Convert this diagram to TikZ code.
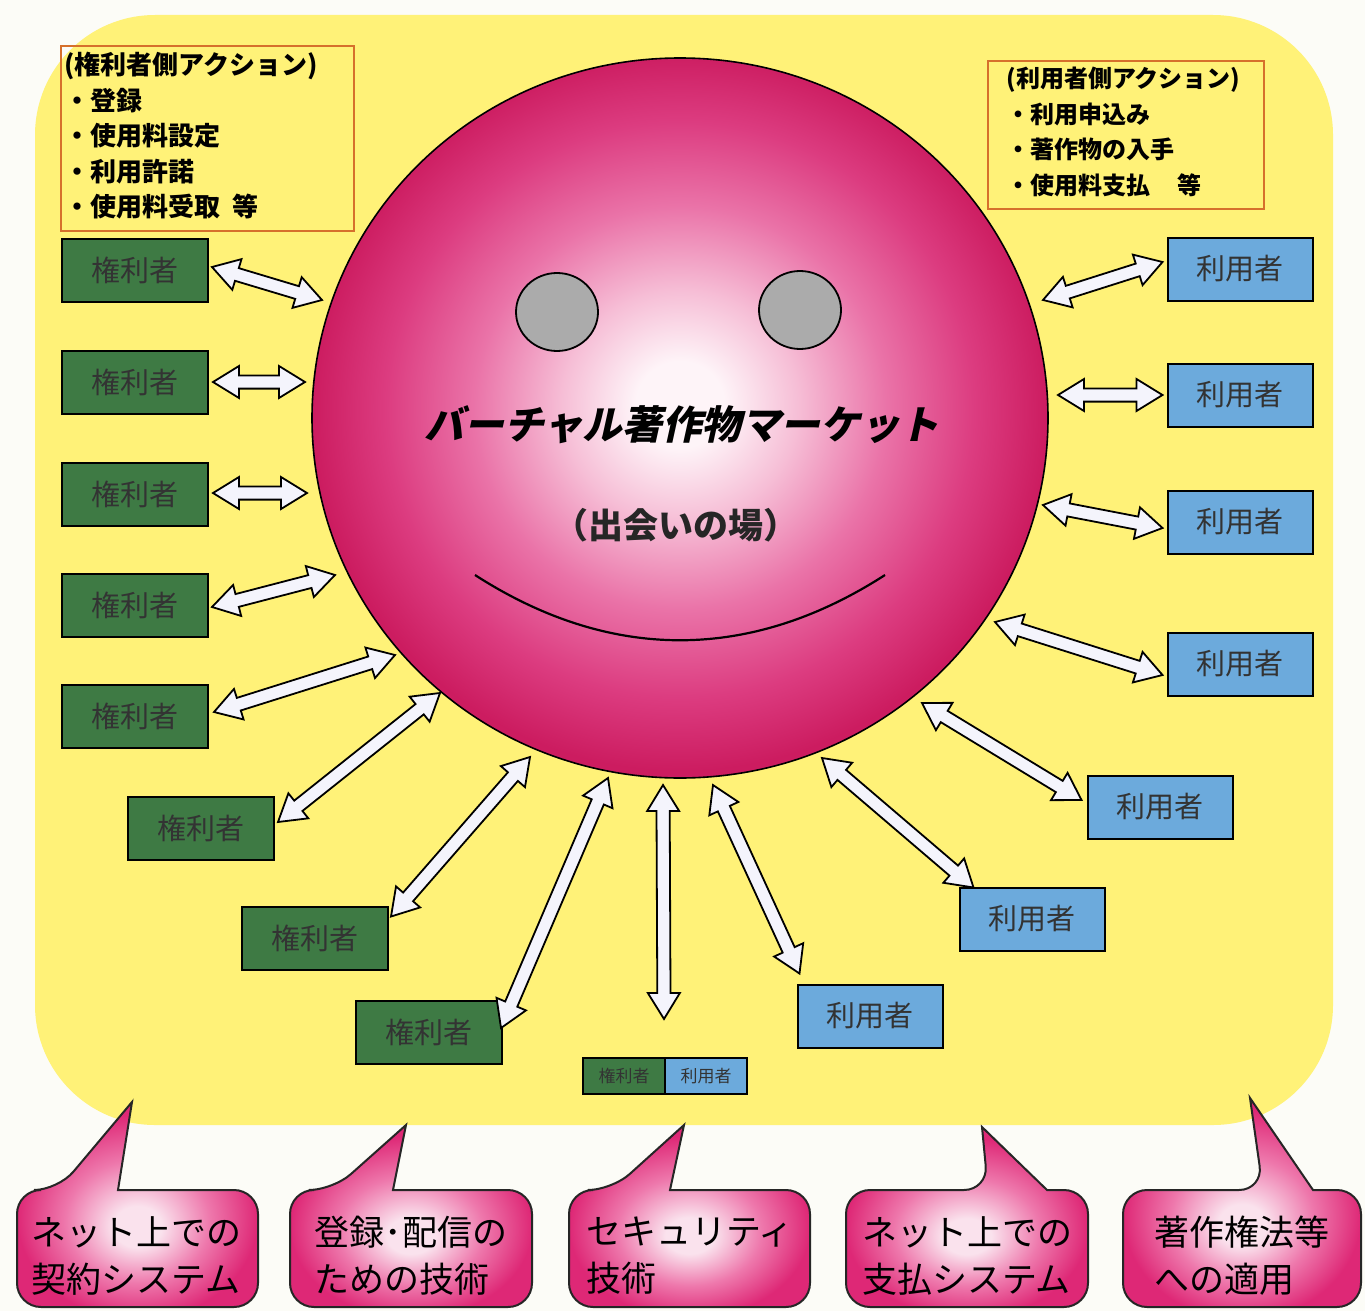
\documentclass[tikz,border=0pt]{standalone}
\usepackage{fontspec}
\setmainfont{Noto Sans CJK JP}
\newfontfamily\titlefont{Noto Sans CJK JP}[FakeSlant=0.22]
\usetikzlibrary{calc,shapes.geometric}
\definecolor{pagebg}{RGB}{252,252,247}
\definecolor{yel}{RGB}{255,242,120}
\definecolor{grn}{RGB}{62,122,68}
\definecolor{blu}{RGB}{108,170,220}
\definecolor{org}{RGB}{214,112,44}
\definecolor{arrfill}{RGB}{244,244,252}
\definecolor{sphC}{RGB}{254,244,248}
\definecolor{sphL}{RGB}{246,190,214}
\definecolor{sphM}{RGB}{234,115,168}
\definecolor{sphE}{RGB}{220,60,128}
\definecolor{sphO}{RGB}{204,28,96}
\definecolor{cC}{RGB}{250,226,237}
\definecolor{cM}{RGB}{238,120,172}
\definecolor{cE}{RGB}{222,40,118}
\pgfdeclareradialshading{spheresh}{\pgfpoint{0bp}{1bp}}{color(0bp)=(sphC); color(3bp)=(sphC); color(8bp)=(sphL); color(14bp)=(sphM); color(20bp)=(sphE); color(25bp)=(sphO); color(50bp)=(sphO)}
\pgfdeclareradialshading{callsh}{\pgfpoint{0bp}{-6bp}}{color(0bp)=(cC); color(5bp)=(cC); color(15bp)=(cM); color(25bp)=(cE); color(50bp)=(cE)}
\tikzset{
  gbox/.style={draw=black, line width=1pt, fill=grn, minimum width=73pt, minimum height=31.5pt, inner sep=0pt, text=black!80, font=\fontsize{14.5}{15}\selectfont},
  bbox/.style={gbox, fill=blu, minimum width=72.5pt},
  sbox/.style={draw=black, line width=1pt, minimum width=41pt, minimum height=18pt, inner sep=0pt, text=black!80, font=\fontsize{8.5}{9}\selectfont},
  actframe/.style={draw=org, line width=1pt, inner sep=0pt},
  acttext/.style={anchor=west, align=left, inner sep=0pt, font=\bfseries\fontsize{13}{17.75}\selectfont},
  arrowline/.style={fill=arrfill, draw=black, line width=0.9pt, line join=miter},
  callst/.style={shading=callsh, draw=black!85, line width=1pt},
  calltext/.style={align=left, inner sep=0pt, font=\fontsize{17.5}{23.5}\selectfont}
}
\newcommand\mydarrow[2]{%
  \coordinate (dA) at (#1); \coordinate (dB) at (#2);
  \coordinate (dP) at ($(dA)!13pt!(dB)$);
  \coordinate (dQ) at ($(dB)!13pt!(dA)$);
  \filldraw[arrowline] (dA) -- ($(dP)!8pt!90:(dB)$) -- ($(dP)!3.3pt!90:(dB)$) -- ($(dQ)!3.3pt!-90:(dA)$) -- ($(dQ)!8pt!-90:(dA)$) -- (dB) -- ($(dQ)!8pt!90:(dA)$) -- ($(dQ)!3.3pt!90:(dA)$) -- ($(dP)!3.3pt!-90:(dB)$) -- ($(dP)!8pt!-90:(dB)$) -- cycle;}
\begin{document}
\begin{tikzpicture}[x=0.5pt,y=-0.5pt]
\useasboundingbox (0,0) rectangle (1365,1311);
\fill[pagebg] (0,0) rectangle (1365,1311);
\fill[yel, rounded corners=60pt] (35,15) rectangle (1333,1125);

% sphere
\node[ellipse, minimum width=368pt, minimum height=360pt, inner sep=0pt, draw=black, line width=0.8pt, shade, shading=spheresh] (sph) at (680,418) {};
\filldraw[fill=black!33, draw=black, line width=0.9pt] (557,312) ellipse [x radius=41, y radius=39];
\filldraw[fill=black!33, draw=black, line width=0.9pt] (800,310) ellipse [x radius=41, y radius=39];
\draw[line width=1.1pt] (475,575) .. controls (610,662) and (750,662) .. (885,575);
\node[font=\titlefont\bfseries\fontsize{19.8}{20}\selectfont] (title) at (682,425) {バーチャル著作物マーケット};
\node[font=\bfseries\fontsize{17.5}{18}\selectfont, text=black!85] (sub) at (676,525) {（出会いの場）};

% action boxes
\node[actframe, anchor=north west, minimum width=146.5pt, minimum height=92.5pt] (lact) at (60,45) {};
\node[acttext] (lactt) at (64,136) {(権利者側アクション)\\・登録\\・使用料設定\\・利用許諾\\・使用料受取\ \ 等};
\node[actframe, anchor=north west, minimum width=138pt, minimum height=74pt] (ract) at (987,60) {};
\node[acttext, font=\bfseries\fontsize{12}{17.8}\selectfont] (ractt) at (1006,132) {(利用者側アクション)\\・利用申込み\\・著作物の入手\\・使用料支払\ \ \ \ \ 等};

% rights holders
\node[gbox] (g1) at (135,270) {権利者};
\node[gbox] (g2) at (135,382) {権利者};
\node[gbox] (g3) at (135,494) {権利者};
\node[gbox] (g4) at (135,605) {権利者};
\node[gbox] (g5) at (135,716) {権利者};
\node[gbox] (g6) at (201,828) {権利者};
\node[gbox] (g7) at (315,938) {権利者};
\node[gbox] (g8) at (429,1032) {権利者};
% users
\node[bbox] (r1) at (1240,269) {利用者};
\node[bbox] (r2) at (1240,395) {利用者};
\node[bbox] (r3) at (1240,522) {利用者};
\node[bbox] (r4) at (1240,664) {利用者};
\node[bbox] (r5) at (1160,807) {利用者};
\node[bbox] (r6) at (1032,919) {利用者};
\node[bbox] (r7) at (870,1016) {利用者};
% combined
\node[sbox, fill=grn] (cg) at (624,1076) {権利者};
\node[sbox, fill=blu] (cu) at (706,1076) {利用者};

% sphere-side ends
\coordinate (s1) at (322,300);
\coordinate (s2) at (305,382);
\coordinate (s3) at (307,493);
\coordinate (s4) at (335,575);
\coordinate (s5) at (395,655);
\coordinate (s6) at (440,693);
\coordinate (s7) at (530,757);
\coordinate (s8) at (608,778);
\coordinate (s9) at (663,785);
\coordinate (s10) at (713,785);
\coordinate (s11) at (822,758);
\coordinate (s12) at (922,703);
\coordinate (s13) at (995,622);
\coordinate (s14) at (1043,505);
\coordinate (s15) at (1058,395);
\coordinate (s16) at (1043,300);

\mydarrow{$(g1.east)+(3,-3)$}{s1}
\mydarrow{$(g2.east)+(4,0)$}{s2}
\mydarrow{$(g3.east)+(4,-1)$}{s3}
\mydarrow{$(g4.east)+(3,2)$}{s4}
\mydarrow{$(g5.east)+(5,-4)$}{s5}
\mydarrow{$(g6.east)+(3,-6)$}{s6}
\mydarrow{$(g7.north east)+(2,11)$}{s7}
\mydarrow{$(g8.east)+(-2,-4)$}{s8}
\mydarrow{$(cg.north east)+(-2,-38)$}{s9}
\mydarrow{$(r7.north west)+(3,-10)$}{s10}
\mydarrow{$(r6.north west)+(15,1)$}{s11}
\mydarrow{$(r5.west)+(-5,-7)$}{s12}
\mydarrow{$(r4.west)+(-4,11)$}{s13}
\mydarrow{$(r3.west)+(-4,6)$}{s14}
\mydarrow{$(r2.west)+(-4,0)$}{s15}
\mydarrow{$(r1.west)+(-4,-7)$}{s16}

% callouts
\shadedraw[callst] (58,1190) -- (132,1102) -- (118,1190) [rounded corners=12pt] -- (258,1190) -- (258,1307) -- (17,1307) -- (17,1190) -- cycle;
\shadedraw[callst] (333,1190) -- (406,1125) -- (393,1190) [rounded corners=12pt] -- (532,1190) -- (532,1307) -- (290,1307) -- (290,1190) -- cycle;
\shadedraw[callst] (612,1190) -- (684,1125) -- (670,1190) [rounded corners=12pt] -- (810,1190) -- (810,1307) -- (569,1307) -- (569,1190) -- cycle;
\shadedraw[callst] (988,1190) -- (982,1127) -- (1047,1190) [rounded corners=12pt] -- (1088,1190) -- (1088,1307) -- (846,1307) -- (846,1190) -- cycle;
\shadedraw[callst] (1263,1190) -- (1250,1098) -- (1313,1190) [rounded corners=12pt] -- (1361,1190) -- (1361,1307) -- (1123,1307) -- (1123,1190) -- cycle;
\node[calltext] (c1) at (137,1256) {ネット上での\\契約システム};
\node[calltext] (c2) at (411,1256) {登録･配信の\\ための技術};
\node[calltext] (c3) at (690,1256) {セキュリティ\\技術};
\node[calltext] (c4) at (967,1256) {ネット上での\\支払システム};
\node[calltext] (c5) at (1242,1256) {著作権法等\\への適用};
\end{tikzpicture}
\end{document}
